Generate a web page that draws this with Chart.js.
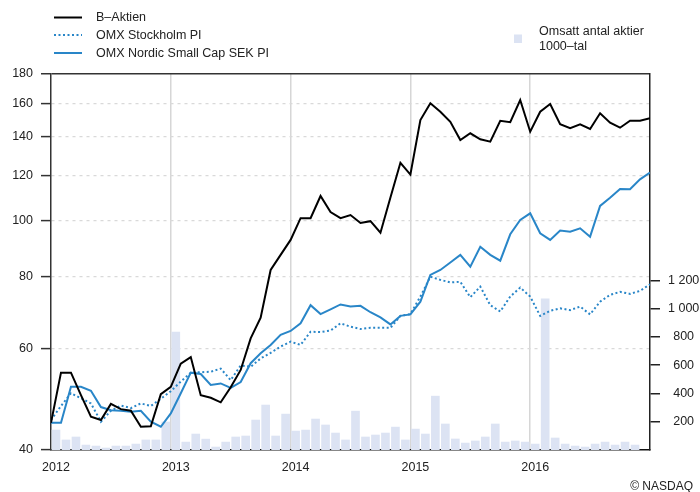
<!DOCTYPE html>
<html><head><meta charset="utf-8">
<script src="https://cdn.jsdelivr.net/npm/chart.js@4.4.1/dist/chart.umd.min.js"></script>
<style>
html,body{margin:0;padding:0;background:#fff;}
#wrap{position:relative;width:700px;height:492px;font-family:"Liberation Sans",Arial,Helvetica,sans-serif;color:#222;}
#c{position:absolute;left:0;top:0;}
.lg{position:absolute;font-size:12.5px;line-height:15px;white-space:nowrap;}
</style></head><body>
<div id="wrap">
<canvas id="c" width="700" height="492"></canvas>
<svg style="position:absolute;left:0;top:0" width="700" height="70">
 <line x1="54" y1="17.5" x2="82" y2="17.5" stroke="#000" stroke-width="2"/>
 <line x1="54" y1="35" x2="82" y2="35" stroke="#2986c8" stroke-width="2" stroke-dasharray="2 2.5"/>
 <line x1="54" y1="53" x2="82" y2="53" stroke="#2986c8" stroke-width="2"/>
 <rect x="514" y="34.5" width="8" height="8.5" fill="#dce3f3"/>
</svg>
<div class="lg" style="left:96px;top:10px">B–Aktien</div>
<div class="lg" style="left:96px;top:27.5px">OMX Stockholm PI</div>
<div class="lg" style="left:96px;top:45.5px">OMX Nordic Small Cap SEK PI</div>
<div class="lg" style="left:539px;top:23.5px">Omsatt antal aktier<br>1000–tal</div>
<div class="lg" style="right:7px;top:478.5px;font-size:12px">© NASDAQ</div>
</div>
<script>
const yearLabels = ['2012','2013','2014','2015','2016'];
const yearTickPos = [0,12,24,36,48];
const leftTicks = [40,60,80,100,120,140,160,180];
const rightTicks = [200,400,600,800,1000,1200];
const bAktien = [44.6,54.5,54.5,49.8,45.7,45.1,48.1,47.1,46.8,43.9,
  44.0,50.0,51.5,56.5,58.0,49.8,49.3,48.4,51.4,55.1,
  62.5,67.9,82.2,87.3,92.7,101.1,101.1,110.5,103.6,101.1,
  102.4,99.2,99.9,95.4,109.8,126.2,120.4,149.7,160.1,154.8,
  148.7,138.2,142.0,138.6,137.3,149.3,148.4,162.2,142.9,154.8,
  159.6,147.2,144.9,147.2,144.5,153.8,148.1,145.2,149.3,149.3,150.8];
const omxStockholm = [45.1,47.7,50.2,49.2,48.2,44.8,46.8,47.8,47.3,48.2,
  47.7,49.1,50.6,52.6,54.5,54.6,54.7,55.4,52.9,56.1,
  55.8,57.7,59.0,60.5,61.7,60.9,64.2,64.1,64.5,66.4,
  65.5,64.9,65.2,65.2,65.2,68.4,68.9,73.9,80.0,79.0,
  78.2,78.4,73.7,76.9,71.4,69.6,73.9,76.6,73.9,68.4,
  69.8,70.5,70.0,71.0,68.8,72.4,74.4,75.3,74.7,75.6,77.6];
const omxSmallCap = [44.6,44.6,51.5,51.5,50.7,47.5,46.9,46.8,46.6,46.8,
  44.8,43.9,46.3,50.2,54.5,54.2,51.9,52.2,51.3,52.5,
  56.6,58.9,60.9,63.4,64.4,66.4,71.4,68.9,70.2,71.6,
  71.0,71.2,69.4,68.0,66.1,68.4,68.8,72.4,80.6,82.2,
  84.7,87.3,83.3,90.2,87.3,85.3,94.8,100.4,103.1,95.2,
  92.7,96.2,95.8,97.1,93.9,106.2,109.7,113.6,113.5,118.1,121.3];
const volume = [141,71,92,35,28,14,28,28,42,71,
  71,198,835,56,113,77,21,56,92,99,
  212,318,99,254,134,141,219,177,120,71,
  275,92,106,120,162,71,148,113,381,184,
  78,49,64,92,184,56,64,56,42,1070,
  85,42,28,21,42,56,35,56,35,null];

const BLUE = '#2986c8';
const FONT = {family:'"Liberation Sans", Arial, Helvetica, sans-serif', size:12.5};
const pts = arr => arr.map((v,i)=>({x:i,y:v}));

new Chart(document.getElementById('c'), {
  type: 'line',
  data: {
    datasets: [
      {label:'B–Aktien', data:pts(bAktien), borderColor:'#000', borderWidth:2, pointRadius:0, tension:0, yAxisID:'y', order:0},
      {label:'OMX Nordic Small Cap SEK PI', data:pts(omxSmallCap), borderColor:BLUE, borderWidth:2, pointRadius:0, tension:0, yAxisID:'y', order:1},
      {label:'OMX Stockholm PI', data:pts(omxStockholm), borderColor:BLUE, borderWidth:2, borderDash:[2,2.5], pointRadius:0, tension:0, yAxisID:'y', order:2},
      {type:'bar', label:'Omsatt antal aktier 1000–tal', data:volume.map((v,i)=>({x:i+0.5,y:v})), backgroundColor:'#dce3f3', borderWidth:0, barThickness:8, yAxisID:'y2', order:10}
    ]
  },
  options: {
    responsive:false, animation:false, events:[],
    layout:{padding:{top:74,left:0,right:0,bottom:0}},
    plugins:{legend:{display:false}, tooltip:{enabled:false}},
    scales:{
      x:{type:'linear', min:0, max:60, offset:false,
        afterBuildTicks: s => { s.ticks = yearTickPos.map(v=>({value:v})); },
        afterFit: s => { s.height = 42; },
        ticks:{autoSkip:false, maxRotation:0, padding:10, labelOffset:5, color:'#222', font:FONT,
          callback: v => yearLabels[Math.round(v/12)]},
        grid:{offset:false, drawTicks:false, lineWidth:1.5, color: c => (c.tick && c.tick.value===0) ? 'rgba(0,0,0,0)' : '#d6d6d6'},
        border:{color:'#111', width:1.5}
      },
      y:{type:'logarithmic', position:'left', min:40, max:180,
        afterBuildTicks: s => { s.ticks = leftTicks.map(v=>({value:v})); },
        afterFit: s => { s.width = 51; },
        ticks:{padding:8, color:'#222', font:FONT, callback: v => String(v)},
        grid:{tickLength:10, tickWidth:1.5, tickColor:'#333', tickBorderDash:[],
          color: c => !c.tick ? '#d9d9d9' : (c.tick.value===180 ? '#333' : (c.tick.value===40 ? 'rgba(0,0,0,0)' : '#d9d9d9')),
          lineWidth: c => (c.tick && c.tick.value===180) ? 1.5 : 1.2},
        border:{color:'#333', width:1.5, dash: c => (c.tick && c.tick.value===180) ? [] : [3,4]}
      },
      y2:{type:'linear', position:'right', min:0, max:2660,
        afterBuildTicks: s => { s.ticks = rightTicks.map(v=>({value:v})); },
        afterFit: s => { s.width = 50; },
        ticks:{padding:8, crossAlign:'center', color:'#222', font:FONT,
          callback: v => v>=1000 ? Math.floor(v/1000)+' '+String(v%1000).padStart(3,'0') : String(v)},
        grid:{drawOnChartArea:false, drawTicks:true, tickLength:10, color:'#222', lineWidth:1.5},
        border:{color:'#222', width:1.5}
      }
    }
  }
});
</script>
</body></html>
